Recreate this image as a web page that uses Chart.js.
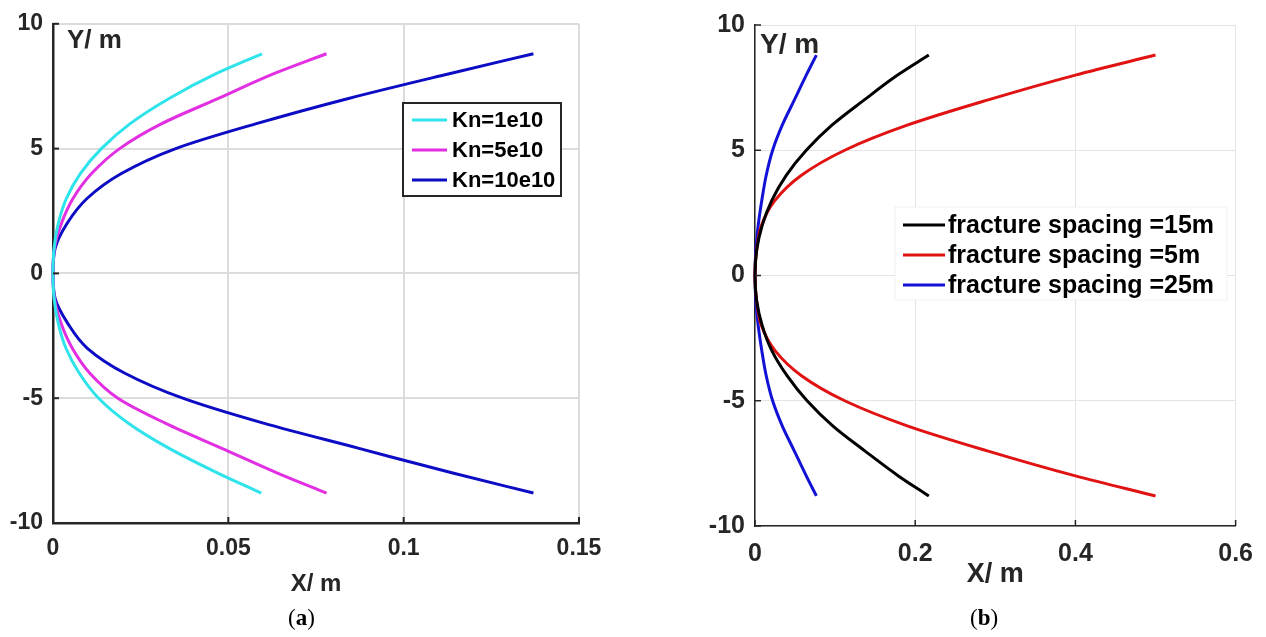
<!DOCTYPE html>
<html>
<head>
<meta charset="utf-8">
<script src="https://cdn.jsdelivr.net/npm/chart.js@4.4.1/dist/chart.umd.min.js"></script>
<style>
  html, body { margin: 0; padding: 0; background: #fff; }
  body { width: 1266px; height: 637px; position: relative; overflow: hidden; }
  canvas { position: absolute; top: 0; }
  #chartA { left: 0; }
  #chartB { left: 633px; }
  .caption { position: absolute; top: 605px; font: 23px "Liberation Serif", "Times New Roman", serif; color: #000; }
</style>
</head>
<body>
<canvas id="chartA" width="633" height="637"></canvas>
<canvas id="chartB" width="633" height="637"></canvas>
<div class="caption" style="left:288px">(<b>a</b>)</div>
<div class="caption" style="left:970px">(<b>b</b>)</div>
<script>
// Shared y sample positions along the fracture (m)
const yPoints = [-8.8, -8, -7, -6, -5, -4, -3, -2, -1, 0, 1, 2, 3, 4, 5, 6, 7, 8, 8.8]

// (a) normal stiffness
const kn1X  = [0.0594, 0.047, 0.033, 0.0215, 0.013, 0.0075, 0.0037, 0.0015, 0.0003, 0, 0.0003, 0.0015, 0.0038, 0.0078, 0.0138, 0.022, 0.033, 0.0465, 0.0596]
const kn5X  = [0.078, 0.064, 0.048, 0.032, 0.0185, 0.0105, 0.0055, 0.0023, 0.0004, 0, 0.0004, 0.0024, 0.0057, 0.011, 0.019, 0.031, 0.047, 0.063, 0.078]
const kn10X = [0.137, 0.114, 0.087, 0.06, 0.037, 0.0205, 0.0098, 0.0042, 0.0006, 0, 0.0006, 0.004, 0.0097, 0.0195, 0.035, 0.058, 0.084, 0.113, 0.137]
const labelsA = ['Kn=1e10', 'Kn=5e10', 'Kn=10e10']

// (b) fracture spacing
const sp15X = [0.217, 0.179, 0.137, 0.097, 0.065, 0.04, 0.021, 0.009, 0.002, 0, 0.002, 0.009, 0.021, 0.039, 0.064, 0.096, 0.136, 0.178, 0.217]
const sp5X  = [0.5, 0.4, 0.29, 0.19, 0.112, 0.058, 0.025, 0.008, 0.002, 0, 0.002, 0.008, 0.025, 0.058, 0.112, 0.19, 0.29, 0.4, 0.5]
const sp25X = [0.0766, 0.064, 0.049, 0.034, 0.022, 0.014, 0.0085, 0.004, 0.001, 0, 0.001, 0.004, 0.0085, 0.014, 0.022, 0.034, 0.049, 0.064, 0.0766]
const labelsB = ['fracture spacing =15m', 'fracture spacing =5m', 'fracture spacing =25m']

// Axis ticks
const xTicksA = [0, 0.05, 0.1, 0.15]
const xTickLabelsA = ['0', '0.05', '0.1', '0.15']
const xTicksB = [0, 0.2, 0.4, 0.6]
const xTickLabelsB = ['0', '0.2', '0.4', '0.6']
const yTicks = [-10, -5, 0, 5, 10]
const yTickLabels = ['-10', '-5', '0', '5', '10']

const FONT = '"Liberation Sans", Arial, sans-serif'
const TEXT = '#262626'

function toPoints(xs) {
  return xs.map((x, i) => ({ x: x, y: yPoints[i] }))
}

function series(label, xs, color) {
  return {
    label,
    data: toPoints(xs),
    showLine: true,
    borderColor: color,
    backgroundColor: color,
    borderWidth: 3,
    pointRadius: 0,
    cubicInterpolationMode: 'monotone',
    clip: false
  }
}

// Inward tick marks plus the "Y/ m" label inside the plot
const axisExtras = {
  id: 'axisExtras',
  afterDraw(chart, args, opts) {
    const { ctx, chartArea, scales } = chart
    ctx.save()
    ctx.strokeStyle = TEXT
    ctx.lineWidth = opts.tickWidth
    scales.x.ticks.forEach(t => {
      const px = scales.x.getPixelForValue(t.value)
      ctx.beginPath()
      ctx.moveTo(px, chartArea.bottom)
      ctx.lineTo(px, chartArea.bottom - 6)
      ctx.stroke()
    })
    scales.y.ticks.forEach(t => {
      const py = scales.y.getPixelForValue(t.value)
      ctx.beginPath()
      ctx.moveTo(chartArea.left, py)
      ctx.lineTo(chartArea.left + 6, py)
      ctx.stroke()
    })
    ctx.fillStyle = TEXT
    ctx.font = 'bold ' + opts.yLabelSize + 'px ' + FONT
    ctx.textBaseline = 'middle'
    ctx.textAlign = 'left'
    ctx.fillText('Y/ m', chartArea.left + opts.yLabelDx, opts.yLabelY)
    ctx.restore()
  }
}

// Legend box placed inside the axes, drawn from the dataset labels/colours
const boxLegend = {
  id: 'boxLegend',
  afterDatasetsDraw(chart, args, opts) {
    const { ctx } = chart
    ctx.save()
    ctx.fillStyle = '#fff'
    ctx.fillRect(opts.x, opts.y, opts.w, opts.h)
    if (opts.border) {
      ctx.strokeStyle = opts.border
      ctx.lineWidth = opts.borderWidth
      ctx.strokeRect(opts.x, opts.y, opts.w, opts.h)
    }
    ctx.font = 'bold ' + opts.fontSize + 'px ' + FONT
    ctx.textBaseline = 'middle'
    ctx.textAlign = 'left'
    chart.data.datasets.forEach((ds, i) => {
      const cy = opts.rows[i]
      ctx.strokeStyle = ds.borderColor
      ctx.lineWidth = 3
      ctx.beginPath()
      ctx.moveTo(opts.lineX, cy)
      ctx.lineTo(opts.lineX + opts.lineLen, cy)
      ctx.stroke()
      ctx.fillStyle = '#000'
      ctx.fillText(ds.label, opts.textX, cy + 1)
    })
    ctx.restore()
  }
}

function makeChart(canvasId, cfg) {
  return new Chart(document.getElementById(canvasId), {
    type: 'scatter',
    data: { datasets: cfg.datasets },
    options: {
      responsive: false,
      animation: false,
      devicePixelRatio: 1,
      indexAxis: 'y',
      layout: { padding: { top: cfg.top, right: cfg.right, bottom: 0, left: 0 } },
      plugins: {
        legend: { display: false },
        tooltip: { enabled: false },
        axisExtras: cfg.extras,
        boxLegend: cfg.legend
      },
      scales: {
        x: {
          type: 'linear',
          position: 'bottom',
          min: cfg.xTicks[0],
          max: cfg.xTicks[cfg.xTicks.length - 1],
          afterBuildTicks: s => { s.ticks = cfg.xTicks.map(v => ({ value: v })) },
          afterFit: s => { s.height = cfg.xHeight },
          grid: { color: cfg.gridColor, lineWidth: cfg.gridWidth, drawTicks: false },
          border: { display: true, color: TEXT, width: cfg.axisWidth },
          ticks: {
            padding: cfg.xTickPad,
            color: TEXT,
            font: { family: FONT, size: cfg.tickSize, weight: 'bold' },
            maxRotation: 0,
            callback: (v, i) => cfg.xLabels[i]
          },
          title: {
            display: true,
            text: 'X/ m',
            color: TEXT,
            font: { family: FONT, size: cfg.titleSize, weight: 'bold' },
            padding: { top: 0, bottom: cfg.titlePad }
          }
        },
        y: {
          type: 'linear',
          position: 'left',
          min: -10,
          max: 10,
          afterBuildTicks: s => { s.ticks = yTicks.map(v => ({ value: v })) },
          afterFit: s => { s.width = cfg.yWidth },
          grid: { color: cfg.gridColor, lineWidth: cfg.gridWidth, drawTicks: false },
          border: { display: true, color: TEXT, width: cfg.axisWidth },
          ticks: {
            padding: 10,
            color: TEXT,
            font: { family: FONT, size: cfg.tickSize, weight: 'bold' },
            callback: (v, i) => yTickLabels[i]
          }
        }
      }
    },
    plugins: [axisExtras, boxLegend]
  })
}

makeChart('chartA', {
  datasets: [
    series(labelsA[0], kn1X, '#2ee3ea'),
    series(labelsA[1], kn5X, '#e22fe2'),
    series(labelsA[2], kn10X, '#0c0cc4')
  ],
  xTicks: xTicksA,
  xLabels: xTickLabelsA,
  top: 21,
  right: 54,
  yWidth: 53,
  xHeight: 114,
  xTickPad: 12,
  titlePad: 38,
  tickSize: 23,
  titleSize: 24,
  gridColor: '#dcdcdc',
  gridWidth: 2,
  axisWidth: 2.5,
  extras: { tickWidth: 2, yLabelDx: 14, yLabelY: 41, yLabelSize: 26 },
  legend: { x: 403, y: 103, w: 158, h: 93, border: '#262626', borderWidth: 2, rows: [120, 150, 180], lineX: 412, lineLen: 35, textX: 452, fontSize: 22 }
})

makeChart('chartB', {
  datasets: [
    series(labelsB[0], sp15X, '#000000'),
    series(labelsB[1], sp5X, '#e01212'),
    series(labelsB[2], sp25X, '#1212d6')
  ],
  xTicks: xTicksB,
  xLabels: xTickLabelsB,
  top: 24,
  right: 28,
  yWidth: 122,
  xHeight: 111,
  xTickPad: 13,
  titlePad: 46,
  tickSize: 25,
  titleSize: 27,
  gridColor: '#e4e4e4',
  gridWidth: 1,
  axisWidth: 1.5,
  extras: { tickWidth: 1.5, yLabelDx: 5, yLabelY: 45, yLabelSize: 28 },
  legend: { x: 262, y: 207, w: 332, h: 93, border: 'rgba(0,0,0,0.06)', borderWidth: 1, rows: [225, 255, 285], lineX: 270, lineLen: 42, textX: 315, fontSize: 25 }
})
</script>
</body>
</html>
